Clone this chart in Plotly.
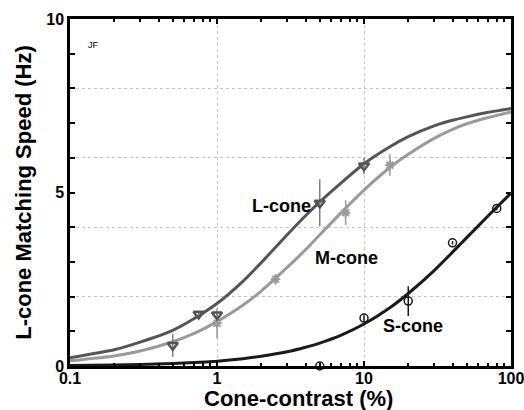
import plotly.graph_objects as go
import math

# ---- data ----
fit_x = [0.1, 0.2, 0.3, 0.5, 0.7, 1, 1.5, 2, 3, 4, 5, 7, 10, 15, 20, 30, 40, 50, 70, 100]
l_fit = [0.24, 0.47, 0.69, 1.03, 1.37, 1.8, 2.44, 2.98, 3.78, 4.33, 4.73, 5.28, 5.83, 6.32, 6.61, 6.92, 7.08, 7.18, 7.31, 7.42]
m_fit = [0.15, 0.29, 0.43, 0.70, 0.94, 1.28, 1.75, 2.16, 2.84, 3.35, 3.78, 4.42, 5.07, 5.72, 6.1, 6.56, 6.82, 6.98, 7.16, 7.32]
s_fit = [0.014, 0.029, 0.043, 0.071, 0.099, 0.14, 0.21, 0.28, 0.41, 0.54, 0.66, 0.89, 1.21, 1.68, 2.09, 2.75, 3.28, 3.7, 4.33, 4.98]

l_x = [0.5, 0.75, 1, 5, 10]
l_y = [0.6, 1.5, 1.48, 4.7, 5.77]
l_err = [0.33, 0.05, 0.1, 0.68, 0.24]

m_x = [1, 2.5, 7.5, 15]
m_y = [1.23, 2.5, 4.42, 5.79]
m_err = [0.43, 0.15, 0.36, 0.31]

s_x = [5, 10, 20, 40, 80]
s_y = [0.0, 1.38, 1.87, 3.55, 4.54]
s_err = [0.0, 0.08, 0.43, 0.05, 0.05]

x_ticks = [0.1, 1, 10, 100]
x_ticktext = ["0.1", "1", "10", "100"]
y_ticks = [0, 5, 10]
y_minor = [1, 2, 3, 4, 6, 7, 8, 9]
y_grid = [2, 4, 6, 8]

L_COL = "#555555"
M_COL = "#9a9a9a"
S_COL = "#1a1a1a"
FONT = "Liberation Sans"
GRID = "#c4c4c4"

fig = go.Figure()

# fitted curves
for ys, col in [(m_fit, M_COL), (l_fit, L_COL), (s_fit, S_COL)]:
    fig.add_trace(go.Scatter(x=fit_x, y=ys, mode="lines",
                             line=dict(color=col, width=3, shape="spline", smoothing=0.5),
                             showlegend=False))

# data points
fig.add_trace(go.Scatter(x=m_x, y=m_y, mode="markers",
                         marker=dict(symbol="asterisk-open", size=8, color=M_COL, line=dict(color=M_COL, width=2)),
                         error_y=dict(type="data", array=m_err, color=M_COL, thickness=1.5, width=0),
                         showlegend=False))
fig.add_trace(go.Scatter(x=l_x, y=l_y, mode="markers",
                         marker=dict(symbol="triangle-down-open", size=9, color=L_COL, line=dict(color=L_COL, width=2.5)),
                         error_y=dict(type="data", array=l_err, color="#808080", thickness=1.5, width=0),
                         showlegend=False))
fig.add_trace(go.Scatter(x=s_x, y=s_y, mode="markers", cliponaxis=False,
                         marker=dict(symbol="circle-open", size=8, color=S_COL, line=dict(color=S_COL, width=1.5)),
                         error_y=dict(type="data", array=s_err, color=S_COL, thickness=1.5, width=0),
                         showlegend=False))

# dummy trace for the grid axis
fig.add_trace(go.Scatter(x=[0.1], y=[None], xaxis="x", yaxis="y2", showlegend=False, hoverinfo="skip"))

fig.update_layout(
    template="none",
    width=524, height=410,
    margin=dict(l=70, r=13, t=19, b=44),
    paper_bgcolor="white", plot_bgcolor="white",
    font=dict(family=FONT, color="black"),
    xaxis=dict(
        type="log", range=[-1, 2], automargin=False,
        tickvals=x_ticks, ticktext=x_ticktext,
        tickfont=dict(family=FONT, size=16, color="black", weight="bold"),
        ticks="inside", ticklen=5, tickwidth=1.5, tickcolor="black",
        ticklabelstandoff=-4, ticklabeloverflow="allow",
        minor=dict(tickvals=[v * d for d in [0.1, 1, 10] for v in range(2, 10)],
                   ticks="inside", ticklen=3, tickwidth=1.5, tickcolor="black", showgrid=False),
        showline=True, linecolor="black", linewidth=2.5, mirror="ticks",
        showgrid=True, gridcolor=GRID, griddash="dot", gridwidth=1,
        zeroline=False,
    ),
    yaxis=dict(
        range=[0, 10], automargin=False,
        tickvals=y_ticks, ticklabeloverflow="allow",
        tickfont=dict(family=FONT, size=16, color="black", weight="bold"),
        ticks="inside", ticklen=5, tickwidth=2, tickcolor="black",
        minor=dict(tickvals=y_minor, ticks="inside", ticklen=5, tickwidth=2, tickcolor="black", showgrid=False),
        showline=True, linecolor="black", linewidth=2.5, mirror="ticks",
        showgrid=False, zeroline=False,
        title=dict(text="L-cone Matching Speed (Hz)", font=dict(family=FONT, size=22, color="black", weight="bold"), standoff=9),
    ),
    yaxis2=dict(
        range=[0, 10], overlaying="y", side="left", automargin=False,
        tickvals=y_grid, showticklabels=False, ticks="",
        showgrid=True, gridcolor=GRID, griddash="dot", gridwidth=1,
        showline=False, zeroline=False, layer="below traces",
    ),
    annotations=[
        dict(text="Cone-contrast (%)", x=0.519, y=-0.094, xref="paper", yref="paper",
             xanchor="center", yanchor="middle", showarrow=False,
             font=dict(family=FONT, size=22, color="black", weight="bold")),
        dict(text="L-cone", x=math.log10(2.75), y=4.6, xref="x", yref="y", showarrow=False,
             font=dict(family=FONT, size=18, color="black", weight="bold")),
        dict(text="M-cone", x=math.log10(7.6), y=3.1, xref="x", yref="y", showarrow=False,
             font=dict(family=FONT, size=18, color="black", weight="bold")),
        dict(text="S-cone", x=math.log10(21.5), y=1.15, xref="x", yref="y", showarrow=False,
             font=dict(family=FONT, size=18, color="black", weight="bold")),
        dict(text="JF", x=0.036, y=0.945, xref="paper", yref="paper", showarrow=False,
             font=dict(family=FONT, size=9, color="black")),
    ],
)

fig.write_html("out.html")
